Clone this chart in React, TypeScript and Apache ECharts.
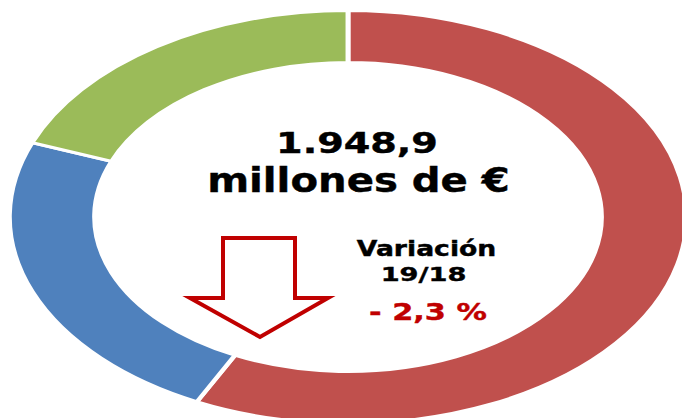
import React, { useEffect, useRef } from "react";
import * as echarts from "echarts";

// Data
const categories = ["Segmento 1", "Segmento 2", "Segmento 3"];
const values = [1118, 458, 373]; // millones de €
const colors = ["#C0504D", "#4F81BD", "#9BBB59"];
const totalLabel = "1.948,9";
const unitLabel = "millones de €";
const variationTitle = "Variación";
const variationPeriod = "19/18";
const variationValue = "- 2,3 %";

const W = 682;
const H = 418;
const SX = 1.64; // horizontal stretch of the doughnut

export default function App() {
  const pieRef = useRef<HTMLDivElement>(null);
  const overRef = useRef<HTMLDivElement>(null);

  useEffect(() => {
    document.body.style.margin = "0";
    const pie = echarts.init(pieRef.current!, undefined, { renderer: "svg" });
    pie.setOption({
      animation: false,
      series: [
        {
          type: "pie",
          center: [348 / SX, 217],
          radius: [154.5, 206.5],
          startAngle: 90,
          clockwise: true,
          label: { show: false },
          labelLine: { show: false },
          itemStyle: { borderColor: "#ffffff", borderWidth: 3 },
          emphasis: { disabled: true },
          data: categories.map((c, i) => ({
            name: c,
            value: values[i],
            itemStyle: { color: colors[i] },
          })),
        },
      ],
    });

    const over = echarts.init(overRef.current!, undefined, { renderer: "svg" });
    const font = (size: number) => `bold ${size}px "DejaVu Sans", sans-serif`;
    const txt = (
      text: string,
      x: number,
      y: number,
      size: number,
      sx: number,
      fill: string
    ) => ({
      type: "text",
      x,
      y,
      scaleX: sx,
      style: {
        text,
        x: 0,
        y: 0,
        font: font(size),
        fill,
        stroke: fill,
        lineWidth: 0.4,
        align: "center",
        verticalAlign: "middle",
        textAlign: "center",
        textVerticalAlign: "middle",
      },
    });
    over.setOption({
      animation: false,
      graphic: {
        elements: [
          txt(totalLabel, 357, 143, 28.5, 1.34, "#000000"),
          txt(unitLabel, 358.5, 181, 33.5, 1.2, "#000000"),
          txt(variationTitle, 426.5, 249.5, 20.5, 1.3, "#000000"),
          txt(variationPeriod, 423.5, 274, 20, 1.36, "#000000"),
          txt(variationValue, 428, 311.5, 23, 1.32, "#C00000"),
          {
            type: "polygon",
            shape: {
              points: [
                [223, 238],
                [295, 238],
                [295, 298],
                [328, 298],
                [260, 337],
                [190, 298],
                [223, 298],
              ],
            },
            style: {
              fill: "#ffffff",
              stroke: "#C00000",
              lineWidth: 4,
              lineJoin: "miter",
            },
          },
        ],
      },
    });

    return () => {
      pie.dispose();
      over.dispose();
    };
  }, []);

  return (
    <div
      style={{
        position: "relative",
        width: W,
        height: H,
        overflow: "hidden",
        background: "#ffffff",
      }}
    >
      <div
        ref={pieRef}
        style={{
          position: "absolute",
          left: 0,
          top: 0,
          width: W / SX,
          height: H,
          transform: `scaleX(${SX})`,
          transformOrigin: "0 0",
        }}
      />
      <div
        ref={overRef}
        style={{ position: "absolute", left: 0, top: 0, width: W, height: H }}
      />
    </div>
  );
}
